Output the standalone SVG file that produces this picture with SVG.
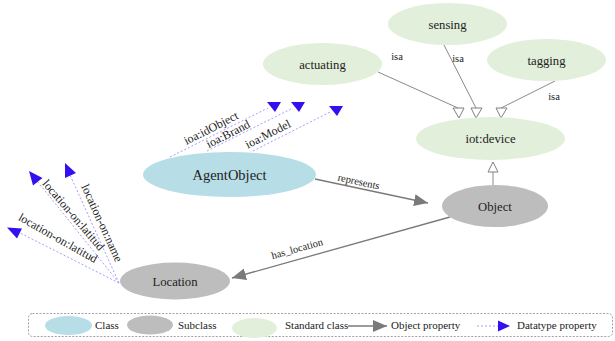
<svg xmlns="http://www.w3.org/2000/svg" xmlns:xlink="http://www.w3.org/1999/xlink" width="615" height="341" viewBox="0 0 615 341" font-family="Liberation Serif, Times New Roman, serif">
<style>
text{font-family:'Liberation Serif','Times New Roman',Times,serif;fill:#222}
.n{font-size:12.7px;text-anchor:middle}
.el{font-size:10.5px;text-anchor:middle}
.dl{font-size:12px;text-anchor:middle}
.lg{font-size:11px}
.cls{fill:#b7dde7}
.sub{fill:#bdbdbd}
.std{fill:#e2efda}
.op{stroke:#7a7a7a;stroke-width:1.3;fill:none}
.isa{stroke:#8a8a8a;stroke-width:1;fill:none}
.hol{fill:#fff;stroke:#808080;stroke-width:1}
.dp{stroke:#a99cff;stroke-width:1;stroke-dasharray:2,2;fill:none}
.dh{fill:#3311ee}
.oh{fill:#7a7a7a}
</style>
<defs>
<marker id="opArrow" viewBox="0 0 14 12" refX="14" refY="6" markerWidth="14" markerHeight="12" markerUnits="userSpaceOnUse" orient="auto">
<path d="M0,0 L14,6 L0,12 Z" class="oh"/>
</marker>
<path id="dtDown" d="M-7,0 L7,0 L1,10 Z" class="dh"/>
</defs>

<g id="connectors">
<line class="isa" x1="378" y1="72" x2="458" y2="108"/>
<polygon class="hol" points="453,108 464,108 459,118"/>
<line class="isa" x1="444" y1="45" x2="476" y2="108"/>
<polygon class="hol" points="471,108 482,108 476,118"/>
<line class="isa" x1="555" y1="81" x2="501" y2="108"/>
<polygon class="hol" points="496,108 507,108 501,118"/>
<line class="isa" x1="493" y1="185" x2="493" y2="172"/>
<polygon class="hol" points="488,172 498,172 493,162"/>
<text class="el" x="397" y="60">isa</text>
<text class="el" x="458" y="62">isa</text>
<text class="el" x="554" y="100">isa</text>
<line class="op" x1="315" y1="179" x2="428" y2="203" marker-end="url(#opArrow)"/>
<text class="el" transform="translate(358,185) rotate(12)">represents</text>
<line class="op" x1="450" y1="217" x2="232" y2="278" marker-end="url(#opArrow)"/>
<text class="el" transform="translate(298,252) rotate(-15.6)">has_location</text>
<line class="dp" x1="170" y1="157" x2="268" y2="108"/>
<use xlink:href="#dtDown" x="274" y="102"/>
<line class="dp" x1="207" y1="151" x2="293" y2="108"/>
<use xlink:href="#dtDown" x="298" y="102"/>
<line class="dp" x1="253" y1="151" x2="330" y2="112"/>
<use xlink:href="#dtDown" x="336" y="106"/>
<text class="dl" transform="translate(212.8,131.6) rotate(-27)">ioa:idObject</text>
<text class="dl" transform="translate(229.8,137.6) rotate(-27)">ioa:Brand</text>
<text class="dl" transform="translate(269.8,137.6) rotate(-27)">ioa:Model</text>
<line class="dp" x1="119" y1="283" x2="38" y2="182"/>
<polygon class="dh" points="29,171 42.5,178 33,185.5"/>
<line class="dp" x1="119" y1="283" x2="70" y2="175"/>
<polygon class="dh" points="65,163 76,173 65,178"/>
<line class="dp" x1="119" y1="283" x2="20" y2="233"/>
<polygon class="dh" points="7,227.5 22,228.5 17,238.5"/>
<text class="dl" transform="translate(98.4,224.7) rotate(65.6)">location-on:name</text>
<text class="dl" transform="translate(70.5,217.6) rotate(49.6)">location-on:latitud</text>
<text class="dl" transform="translate(56,241.5) rotate(29.5)">location-on:latitud</text>
</g>

<g id="node-sensing">
<ellipse class="std" cx="447.5" cy="24" rx="59.5" ry="21"/>
<text class="n" x="447.5" y="28.5">sensing</text>
</g>
<g id="node-actuating">
<ellipse class="std" cx="322.5" cy="64" rx="59.5" ry="21"/>
<text class="n" x="322.5" y="68.5">actuating</text>
</g>
<g id="node-tagging">
<ellipse class="std" cx="546.5" cy="60" rx="59.5" ry="21"/>
<text class="n" x="546.5" y="64.5">tagging</text>
</g>
<g id="node-iotdevice">
<ellipse class="std" cx="490.5" cy="138.5" rx="74.5" ry="21.5"/>
<text class="n" x="490.5" y="143">iot:device</text>
</g>
<g id="node-AgentObject">
<ellipse class="cls" cx="229.5" cy="174.5" rx="86.5" ry="22.5"/>
<text class="n" x="229.5" y="179.5" style="font-size:14.5px">AgentObject</text>
</g>
<g id="node-Object">
<ellipse class="sub" cx="495" cy="206" rx="53" ry="21"/>
<text class="n" x="495" y="210.5">Object</text>
</g>
<g id="node-Location">
<ellipse class="sub" cx="175" cy="281" rx="55" ry="18.5"/>
<text class="n" x="175" y="285.5">Location</text>
</g>

<g id="legend">
<rect x="28.5" y="313.5" width="584" height="23" rx="4" fill="none" stroke="#8a8a8a" stroke-width="0.8" stroke-dasharray="2,1.5"/>
<ellipse class="cls" cx="68.5" cy="325.5" rx="23.5" ry="9.5"/>
<text class="lg" x="95" y="329">Class</text>
<ellipse class="sub" cx="150" cy="325" rx="23" ry="9.5"/>
<text class="lg" x="178" y="329">Subclass</text>
<ellipse class="std" cx="254.5" cy="328" rx="22.5" ry="10"/>
<text class="lg" x="285" y="329">Standard class</text>
<line class="op" x1="348" y1="326" x2="387" y2="326" marker-end="url(#opArrow)"/>
<text class="lg" x="391" y="329">Object property</text>
<line class="dp" x1="477" y1="326" x2="498" y2="326"/>
<polygon class="dh" points="498,320.5 510,326 498,331.5"/>
<text class="lg" x="517" y="329">Datatype property</text>
</g>
</svg>
